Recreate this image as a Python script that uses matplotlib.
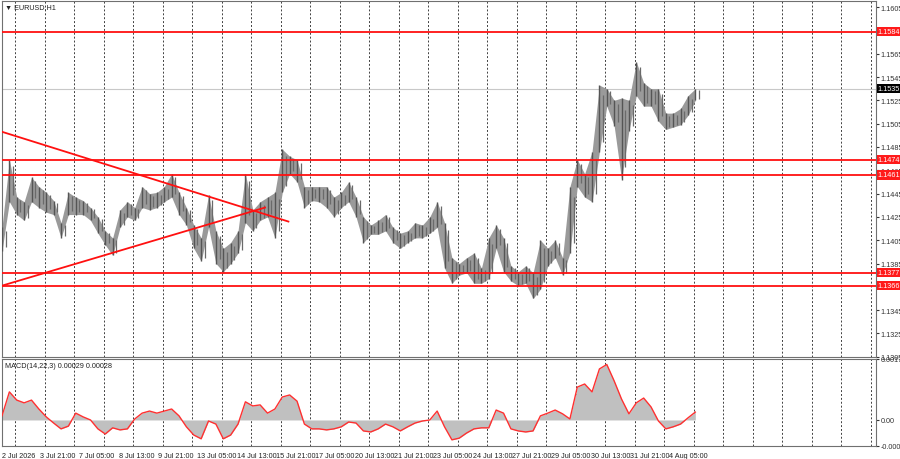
import matplotlib
matplotlib.use("Agg")
import matplotlib.pyplot as plt
import numpy as np

plt.rcParams['font.family'] = ['Liberation Sans', 'DejaVu Sans']

# price ranges per 6-hour group (EURUSD H1)
highs = [1.1416,1.1474,1.1442,1.1438,1.1459,1.1451,1.1446,1.1439,1.1420,1.1446,
         1.1442,1.1439,1.1433,1.1425,1.1413,1.1407,1.1431,1.1438,1.1433,1.1451,
         1.1445,1.1446,1.1451,1.1462,1.1446,1.1433,1.1418,1.1407,1.1444,1.1413,
         1.1398,1.1403,1.1413,1.1462,1.1431,1.1438,1.1442,1.1446,1.1483,1.1477,
         1.1474,1.1451,1.1451,1.1451,1.1451,1.1442,1.1446,1.1455,1.1442,1.1425,
         1.1418,1.1422,1.1427,1.1416,1.1411,1.1413,1.1420,1.1418,1.1425,1.1438,
         1.1420,1.1390,1.1385,1.1390,1.1394,1.1381,1.1407,1.1418,1.1407,1.1383,
         1.1378,1.1383,1.1377,1.1405,1.1398,1.1405,1.1390,1.1451,1.1474,1.1462,
         1.1481,1.1538,1.1535,1.1525,1.1527,1.1525,1.1558,1.1540,1.1535,1.1535,
         1.1514,1.1514,1.1518,1.1529,1.1535]
lows = [1.1396,1.1438,1.1427,1.1422,1.1438,1.1433,1.1429,1.1427,1.1407,1.1427,
        1.1427,1.1427,1.1422,1.1411,1.1401,1.1392,1.1416,1.1425,1.1422,1.1433,
        1.1431,1.1433,1.1438,1.1442,1.1427,1.1418,1.1398,1.1387,1.1416,1.1385,
        1.1378,1.1385,1.1394,1.1420,1.1413,1.1422,1.1425,1.1407,1.1446,1.1462,
        1.1455,1.1433,1.1439,1.1438,1.1433,1.1425,1.1433,1.1438,1.1425,1.1403,
        1.1410,1.1410,1.1413,1.1403,1.1398,1.1403,1.1407,1.1407,1.1411,1.1416,
        1.1381,1.1368,1.1375,1.1377,1.1368,1.1368,1.1372,1.1398,1.1378,1.1370,
        1.1366,1.1368,1.1355,1.1363,1.1383,1.1390,1.1375,1.1394,1.1451,1.1442,
        1.1438,1.1481,1.1520,1.1503,1.1457,1.1499,1.1529,1.1520,1.1520,1.1507,
        1.1500,1.1502,1.1504,1.1512,1.1525]
macd = [0.00012,0.00082,0.00058,0.00050,0.00058,0.00032,0.00009,-0.00009,-0.00026,-0.00018,
        0.00020,0.00009,0.0,-0.00026,-0.00041,-0.00023,-0.00029,-0.00026,0.00003,0.00020,
        0.00026,0.00020,0.00026,0.00032,0.00012,-0.00020,-0.00044,-0.00055,-0.00003,-0.00012,
        -0.00055,-0.00044,-0.00012,0.00053,0.00041,0.00044,0.00020,0.00032,0.00067,0.00073,
        0.00055,-0.00012,-0.00026,-0.00026,-0.00029,-0.00026,-0.00020,-0.00006,-0.00009,-0.00032,
        -0.00035,-0.00026,-0.00012,-0.00020,-0.00032,-0.00020,-0.00009,-0.00003,0.0,0.00026,
        -0.00020,-0.00058,-0.00053,-0.00038,-0.00026,-0.00023,-0.00023,0.00029,0.00020,-0.00026,
        -0.00032,-0.00035,-0.00032,0.00012,0.00020,0.00029,0.00018,0.00003,0.00096,0.00105,
        0.00082,0.00149,0.00162,0.00114,0.00061,0.00018,0.00050,0.00064,0.00038,-0.00003,
        -0.00026,-0.00020,-0.00012,0.00006,0.00023]
bars_per_sample = 6

levels = [1.1584, 1.1474, 1.1461, 1.1377, 1.1366]
current_price = 1.1535
price_ticks = [1.1605,1.1565,1.1545,1.1525,1.1505,1.1485,1.1465,1.1445,1.1425,1.1405,1.1385,1.1345,1.1325,1.1305]
down_trend = [(0, 1.1498), (233, 1.1421)]
up_trend = [(0, 1.1366), (214, 1.1433)]
date_labels = ["3 Jul 21:00","7 Jul 05:00","8 Jul 13:00","9 Jul 21:00","13 Jul 05:00",
               "14 Jul 13:00","15 Jul 21:00","17 Jul 05:00","20 Jul 13:00","21 Jul 21:00",
               "23 Jul 05:00","24 Jul 13:00","27 Jul 21:00","29 Jul 05:00","30 Jul 13:00",
               "31 Jul 21:00","4 Aug 05:00"]

x = np.arange(len(highs)) * bars_per_sample
XMAX = 711
FS = 5.2

fig = plt.figure(figsize=(9, 4.6), dpi=100)
ax = fig.add_axes([2/900, 102/460, 874/900, 356/460])
am = fig.add_axes([2/900, 13/460, 874/900, 87/460])

grid_x = np.arange(10.6, XMAX, 24)
for a in (ax, am):
    a.set_xlim(0, XMAX)
    for g in grid_x:
        a.axvline(g, color="#404040", lw=0.7, ls=(0, (2, 2)), zorder=1)
    for s in a.spines.values():
        s.set_color("#707070")
    a.set_xticks([])
    a.yaxis.tick_right()
    a.tick_params(axis="y", labelsize=FS, length=2, colors="#333333", pad=1.5)

ax.set_ylim(1.13048, 1.16102)
ax.fill_between(x, lows, highs, color="#9a9a9a", lw=0, zorder=2)
ax.vlines(x, lows, highs, color="#555555", lw=1.0, zorder=3)
ax.vlines(x + 3, [(l + h) / 2 - (h - l) * 0.35 for l, h in zip(lows, highs)],
          [(l + h) / 2 + (h - l) * 0.35 for l, h in zip(lows, highs)], color="#6a6a6a", lw=0.9, zorder=3)
ax.set_yticks(price_ticks)
ax.set_yticklabels([f"{p:.4f}" for p in price_ticks])

ax.axhline(current_price, color="#c8c8c8", lw=0.8, zorder=1)
for lv in levels:
    ax.axhline(lv, color="#ff1010", lw=1.3, zorder=4)
    ax.text(1.002, lv, f"{lv:.4f}", transform=ax.get_yaxis_transform(), fontsize=FS,
            color="white", va="center", ha="left", zorder=6,
            bbox=dict(boxstyle="square,pad=0.15", fc="#ff1a1a", ec="none"))
ax.text(1.002, current_price, f"{current_price:.4f}", transform=ax.get_yaxis_transform(), fontsize=FS,
        color="white", va="center", ha="left", zorder=6,
        bbox=dict(boxstyle="square,pad=0.15", fc="black", ec="none"))
for tl in (down_trend, up_trend):
    ax.plot([tl[0][0], tl[1][0]], [tl[0][1], tl[1][1]], color="#ff1010", lw=1.3, zorder=4)
ax.text(0.004, 0.995, "▼ EURUSD,H1", transform=ax.transAxes, fontsize=FS, va="top", color="#222222")

am.set_ylim(-0.00076, 0.00178)
am.fill_between(x, 0, macd, color="#c0c0c0", lw=0, zorder=2)
am.plot(x, macd, color="#ff3030", lw=1.0, zorder=3)
am.set_yticks([0.00178, 0.0, -0.00075])
am.set_yticklabels(["0.00178", "0.00", "-0.00075"])
am.text(0.004, 0.97, "MACD(14,22,3) 0.00029 0.00028", transform=am.transAxes, fontsize=FS,
        va="top", color="#222222")

am.text(0, -0.07, "2 Jul 2026", transform=am.get_xaxis_transform(), fontsize=FS, va="top", ha="left", color="#222222")
for j, lab in enumerate(date_labels):
    am.text(31 + 32 * j, -0.07, lab, transform=am.get_xaxis_transform(), fontsize=FS,
            va="top", ha="left", color="#222222")

fig.savefig("out.png", dpi=100, facecolor="white")
